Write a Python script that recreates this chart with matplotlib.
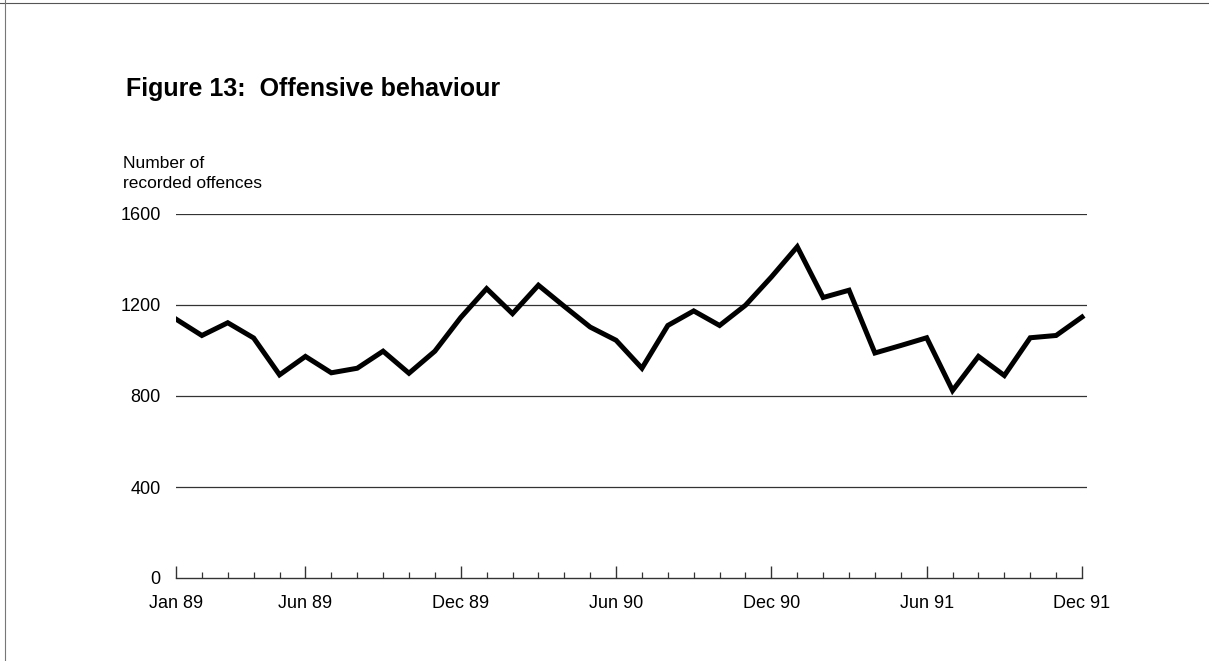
import matplotlib.pyplot as plt
from matplotlib.ticker import FixedLocator, MultipleLocator
from matplotlib.lines import Line2D

# monthly recorded offences, Jan 89 - Dec 91
months = ['Jan 89', 'Feb 89', 'Mar 89', 'Apr 89', 'May 89', 'Jun 89',
          'Jul 89', 'Aug 89', 'Sep 89', 'Oct 89', 'Nov 89', 'Dec 89',
          'Jan 90', 'Feb 90', 'Mar 90', 'Apr 90', 'May 90', 'Jun 90',
          'Jul 90', 'Aug 90', 'Sep 90', 'Oct 90', 'Nov 90', 'Dec 90',
          'Jan 91', 'Feb 91', 'Mar 91', 'Apr 91', 'May 91', 'Jun 91',
          'Jul 91', 'Aug 91', 'Sep 91', 'Oct 91', 'Nov 91', 'Dec 91']
offences = [1138, 1066, 1122, 1055, 893, 974, 902, 922, 997, 900, 997, 1145,
            1272, 1162, 1287, 1194, 1103, 1045, 922, 1110, 1174, 1110, 1199, 1323,
            1456, 1233, 1265, 989, 1022, 1056, 824, 974, 890, 1056, 1066, 1147]
labelled = ['Jan 89', 'Jun 89', 'Dec 89', 'Jun 90', 'Dec 90', 'Jun 91', 'Dec 91']
yticks = [0, 400, 800, 1200, 1600]

plt.rcParams['font.family'] = ['Liberation Sans', 'DejaVu Sans']

W, H = 1209, 661
fig = plt.figure(figsize=(W / 100, H / 100), dpi=100)

# frame around the page
fig.add_artist(Line2D([0, 1], [1 - 3 / H, 1 - 3 / H], color='#555555', lw=0.8))
fig.add_artist(Line2D([5 / W, 5 / W], [0, 1], color='#777777', lw=0.8))

# x axis: Jan 89 at px 176, Dec 91 at px 1082; gridlines run to px 1087
n = len(months)
x0, x1 = 176, 1082
xmax = (n - 1) * (1087 - x0) / (x1 - x0)
ax = fig.add_axes([x0 / W, (H - 578) / H, (1087 - x0) / W, (578 - 214) / H])

x = list(range(n))
ax.plot(x, offences, color='black', lw=3.6, solid_joinstyle='miter', zorder=3)

ax.set_xlim(0, xmax)
ax.set_ylim(0, 1600)

for v in yticks[1:]:
    ax.axhline(v, color='#333333', lw=0.9, zorder=1)

for s in ['top', 'right', 'left']:
    ax.spines[s].set_visible(False)
ax.spines['bottom'].set_linewidth(1.0)
ax.spines['bottom'].set_color('#333333')
ax.spines['bottom'].set_bounds(0, n - 1)

ax.xaxis.set_major_locator(FixedLocator([months.index(m) for m in labelled]))
ax.set_xticklabels(labelled)
ax.xaxis.set_minor_locator(MultipleLocator(1))
ax.tick_params(axis='x', which='major', direction='in', length=9, width=1.0,
               color='#333333', labelsize=13, pad=12)
ax.tick_params(axis='x', which='minor', direction='in', length=4.3, width=0.9,
               color='#333333')

ax.set_yticks(yticks)
ax.set_yticklabels([str(v) for v in yticks])
ax.tick_params(axis='y', length=0, labelsize=13, pad=11)

fig.text(126 / W, 1 - 96 / H, 'Figure 13:  Offensive behaviour', fontsize=18,
         fontweight='bold', va='baseline', ha='left')
fig.text(123 / W, 1 - 168 / H, 'Number of', fontsize=12.5,
         va='baseline', ha='left')
fig.text(123 / W, 1 - 188 / H, 'recorded offences', fontsize=12.5,
         va='baseline', ha='left')

fig.savefig('out.png', dpi=100, facecolor='white')
